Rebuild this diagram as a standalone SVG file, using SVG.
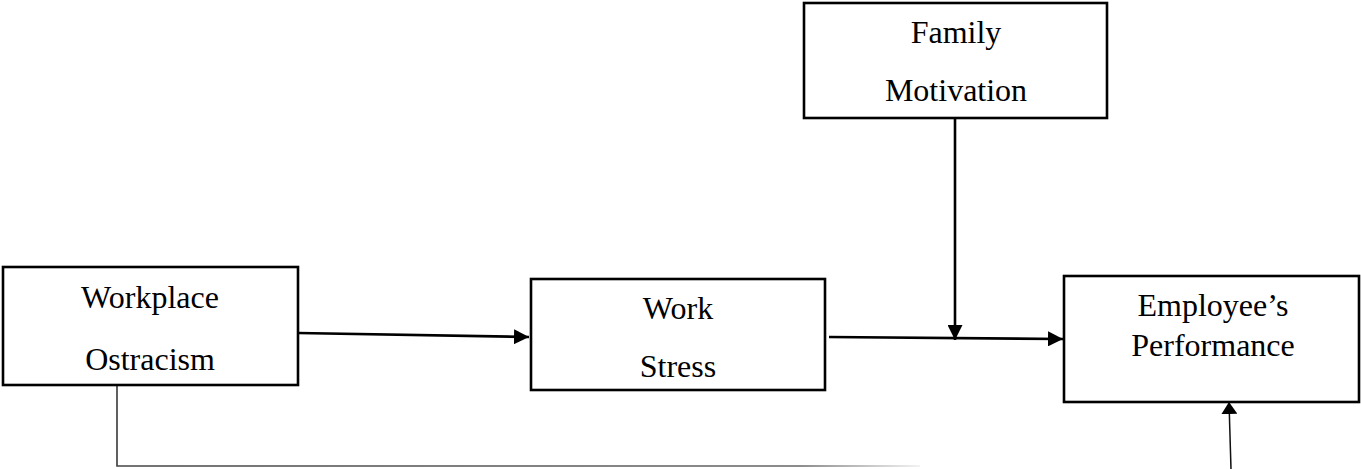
<svg xmlns="http://www.w3.org/2000/svg" width="1361" height="469" viewBox="0 0 1361 469">
<style>
.box{fill:#fff;stroke:#000;stroke-width:2.6}
.t{font-family:"Liberation Serif","Times New Roman",serif;font-size:32px;fill:#000;text-anchor:middle}
.c{fill:none;stroke:#000;stroke-width:2.6}
.thin{fill:none;stroke:#111;stroke-width:1.5}
</style>
<defs>
<marker id="ah" viewBox="0 0 15 15" refX="15" refY="7.5" markerWidth="15" markerHeight="15" markerUnits="userSpaceOnUse" orient="auto">
<path d="M0,0 L15,7.5 L0,15 Z" fill="#000"/>
</marker>
<marker id="ah2" viewBox="0 0 12 16" refX="12" refY="8" markerWidth="12" markerHeight="16" markerUnits="userSpaceOnUse" orient="auto">
<path d="M0,0 L12,8 L0,16 Z" fill="#000"/>
</marker>
<linearGradient id="fade" gradientUnits="userSpaceOnUse" x1="117" y1="0" x2="920" y2="0">
<stop offset="0" stop-color="#444"/>
<stop offset="0.85" stop-color="#666"/>
<stop offset="1" stop-color="#eee"/>
</linearGradient>
</defs>
<g id="connectors">
<path class="c" d="M298,333 L529,337" marker-end="url(#ah)"/>
<path class="c" d="M829,337 L1063,339" marker-end="url(#ah)"/>
<path class="c" d="M955,118 L955,340" marker-end="url(#ah)"/>
<polyline points="117,385 117,466 920,466" fill="none" stroke="url(#fade)" stroke-width="1.7"/>
<path class="thin" d="M1231,469 L1229,402" marker-end="url(#ah2)"/>
</g>
<g id="workplace-ostracism">
<rect class="box" x="3" y="267" width="295" height="118"/>
<text class="t" x="150" y="308">Workplace</text>
<text class="t" x="150" y="370">Ostracism</text>
</g>
<g id="work-stress">
<rect class="box" x="531" y="279" width="294" height="111"/>
<text class="t" x="678" y="319">Work</text>
<text class="t" x="678" y="377">Stress</text>
</g>
<g id="family-motivation">
<rect class="box" x="804" y="3" width="303" height="115"/>
<text class="t" x="956" y="43">Family</text>
<text class="t" x="956" y="101">Motivation</text>
</g>
<g id="employee-performance">
<rect class="box" x="1064" y="276" width="295" height="126"/>
<text class="t" x="1213" y="316">Employee’s</text>
<text class="t" x="1213" y="356">Performance</text>
</g>
</svg>
